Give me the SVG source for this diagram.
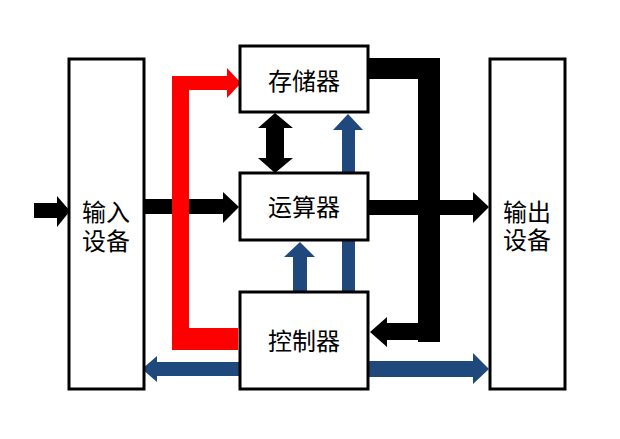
<svg xmlns="http://www.w3.org/2000/svg" width="620" height="439" viewBox="0 0 620 439">
<style>
.box{fill:#fff;stroke:#000;stroke-width:3}
.t{font-family:"Liberation Sans","Noto Sans CJK SC",sans-serif;font-size:24px;fill:#000;text-anchor:middle;dominant-baseline:central}
.k{fill:#000}
.r{fill:#f00}
.b{fill:#1F497D}
</style>
<rect width="620" height="439" fill="#fff"/>
<g id="connectors">
<polygon class="k" points="34,203 57,203 57,196 70,211 57,227 57,218 34,218"/>
<polygon class="k" points="144,199 223,199 223,192 239,207 223,223 223,214 144,214"/>
<polygon class="r" points="172,76 227,76 227,68 241,83 227,98 227,90 189,90 189,328 238,328 238,350 172,350"/>
<polygon class="k" points="275,113 293,128 284,128 284,158 293,158 275,173 258,158 266,158 266,128 258,128"/>
<polygon class="b" points="348,114 363,130 355,130 355,292 342,292 342,130 333,130"/>
<polygon class="b" points="300,242 315,257 307,257 307,292 293,292 293,257 284,257"/>
<polygon class="k" points="368,200 473,200 473,192 489,207 473,223 473,215 368,215"/>
<polygon class="k" points="368,58 440,58 440,342 418,342 418,340 387,340 387,347 370,332 387,317 387,323 418,323 418,79 368,79"/>
<polygon class="b" points="240,362 157,362 157,356 142,369 157,382 157,376 240,376"/>
<polygon class="b" points="368,361 473,361 473,353 489,369 473,384 473,377 368,377"/>
</g>
<g id="input"><rect class="box" x="69" y="59" width="75" height="330"/><text class="t" x="106" y="212">输入</text><text class="t" x="106" y="241">设备</text></g>
<g id="output"><rect class="box" x="490" y="59" width="75" height="330"/><text class="t" x="527" y="212">输出</text><text class="t" x="527" y="240">设备</text></g>
<g id="storage"><rect class="box" x="240" y="46" width="128" height="66"/><text class="t" x="304" y="81">存储器</text></g>
<g id="alu"><rect class="box" x="240" y="173" width="128" height="67"/><text class="t" x="304" y="207">运算器</text></g>
<g id="control"><rect class="box" x="240" y="292" width="128" height="97"/><text class="t" x="304" y="341">控制器</text></g>
</svg>
